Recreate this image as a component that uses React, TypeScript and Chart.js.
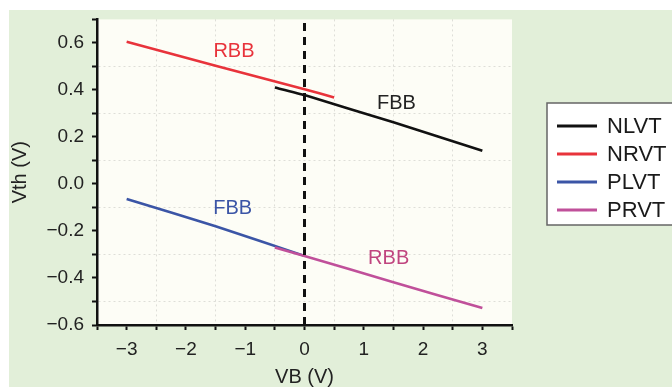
import React, { useEffect, useRef } from "react";
import { Chart, registerables } from "chart.js";

Chart.register(...registerables);

// ---- data ----
const seriesNames = ["NLVT", "NRVT", "PLVT", "PRVT"];
const seriesColors = ["#111111", "#e8333b", "#3b55a6", "#c0509a"];

const nlvtX = [-0.5, 0, 1.5, 3];
const nlvtY = [0.41, 0.378, 0.262, 0.141];
const nrvtX = [-3, -1.5, 0, 0.5];
const nrvtY = [0.605, 0.503, 0.403, 0.368];
const plvtX = [-3, -1.5, 0];
const plvtY = [-0.064, -0.18, -0.306];
const prvtX = [-0.5, 0, 1.5, 3];
const prvtY = [-0.27, -0.306, -0.418, -0.528];

const zeroLineX = [0, 0];
const zeroLineY = [-0.6, 0.7];

const annotationText = ["RBB", "FBB", "FBB", "RBB"];
const annotationX = [-1.19, 1.55, -1.21, 1.42];
const annotationY = [0.562, 0.342, -0.105, -0.319];
const annotationColors = ["#e8333b", "#222222", "#3b55a6", "#c0457f"];

const xTickValues = [-3, -2, -1, 0, 1, 2, 3];
const yTickValues = [-0.6, -0.4, -0.2, 0.0, 0.2, 0.4, 0.6];

const FONT = "'Liberation Sans', Arial, Helvetica, sans-serif";
const GREEN = "#e2efd9";
const CREAM = "#fdfdf6";

const fmt = (v: number, digits: number) => {
  const s = Math.abs(v).toFixed(digits);
  return v < -1e-9 ? "\u2212" + s : s;
};

const pts = (xs: number[], ys: number[]) => xs.map((x, i) => ({ x, y: ys[i] }));

const bgPlugin = {
  id: "bgPlugin",
  beforeDraw(chart: any) {
    const { ctx, chartArea } = chart;
    ctx.save();
    ctx.fillStyle = "#ffffff";
    ctx.fillRect(0, 0, chart.width, chart.height);
    ctx.fillStyle = GREEN;
    ctx.fillRect(9, 10, chart.width - 9, chart.height - 10);
    ctx.fillStyle = CREAM;
    ctx.fillRect(chartArea.left, chartArea.top, chartArea.right - chartArea.left, chartArea.bottom - chartArea.top);
    ctx.restore();
  },
};

const annotationPlugin = {
  id: "annotationPlugin",
  afterDatasetsDraw(chart: any) {
    const { ctx } = chart;
    const xs = chart.scales.x;
    const ys = chart.scales.y;
    ctx.save();
    ctx.font = `20px ${FONT}`;
    ctx.textAlign = "center";
    ctx.textBaseline = "middle";
    annotationText.forEach((t, i) => {
      ctx.fillStyle = annotationColors[i];
      ctx.fillText(t, xs.getPixelForValue(annotationX[i]), ys.getPixelForValue(annotationY[i]));
    });
    ctx.restore();
  },
};

const legendPlugin = {
  id: "legendPlugin",
  afterDraw(chart: any) {
    const { ctx } = chart;
    const left = 547;
    const top = 103;
    const bottom = 225;
    ctx.save();
    ctx.fillStyle = "#ffffff";
    ctx.fillRect(left, top, chart.width - left + 5, bottom - top);
    ctx.strokeStyle = "#666666";
    ctx.lineWidth = 1.5;
    ctx.strokeRect(left, top, chart.width - left + 5, bottom - top);
    ctx.font = `22px ${FONT}`;
    ctx.textAlign = "left";
    ctx.textBaseline = "middle";
    seriesNames.forEach((name, i) => {
      const y = 126 + i * 28;
      ctx.strokeStyle = seriesColors[i];
      ctx.lineWidth = 3;
      ctx.beginPath();
      ctx.moveTo(557, y);
      ctx.lineTo(597, y);
      ctx.stroke();
      ctx.fillStyle = "#1a1a1a";
      ctx.fillText(name, 607, y + 1);
    });
    ctx.restore();
  },
};

export default function App() {
  const ref = useRef<HTMLCanvasElement | null>(null);

  useEffect(() => {
    if (!ref.current) return;
    const seriesX = [nlvtX, nrvtX, plvtX, prvtX];
    const seriesY = [nlvtY, nrvtY, plvtY, prvtY];
    const datasets: any[] = seriesNames.map((name, i) => ({
      label: name,
      data: pts(seriesX[i], seriesY[i]),
      borderColor: seriesColors[i],
      borderWidth: 2.6,
      pointRadius: 0,
      tension: 0.1,
      fill: false,
      order: name === "PRVT" ? 0 : i + 1,
    }));
    datasets.push({
      label: "zero",
      data: pts(zeroLineX, zeroLineY),
      borderColor: "#111111",
      borderWidth: 3,
      borderDash: [8, 6],
      pointRadius: 0,
      fill: false,
      order: -1,
    });

    const chart = new Chart(ref.current, {
      type: "line",
      data: { datasets },
      plugins: [bgPlugin, annotationPlugin, legendPlugin],
      options: {
        responsive: false,
        animation: false,
        devicePixelRatio: 1,
        layout: { padding: { left: 0, top: 15, right: 160, bottom: 0 } },
        plugins: { legend: { display: false }, tooltip: { enabled: false } },
        scales: {
          x: {
            type: "linear",
            min: -3.5,
            max: 3.5,
            afterFit(scale: any) {
              scale.height = 62;
            },
            ticks: {
              stepSize: 0.5,
              autoSkip: false,
              maxRotation: 0,
              padding: 8,
              color: "#222222",
              font: { family: FONT, size: 19 },
              callback(value: any) {
                const v = Number(value);
                return xTickValues.some((t) => Math.abs(t - v) < 1e-6) ? fmt(v, 0) : "";
              },
            },
            grid: {
              drawTicks: true,
              tickLength: 5,
              tickColor: "#111111",
              tickWidth: 2,
              lineWidth: 1,
              color(ctx: any) {
                const v = ctx.tick ? ctx.tick.value : 0;
                const isHalf = Math.abs(v * 2 - Math.round(v * 2)) < 1e-6 && Math.abs(v - Math.round(v)) > 1e-6;
                return isHalf && Math.abs(v) < 3.4 ? "rgba(0,0,0,0.12)" : "rgba(0,0,0,0)";
              },
            },
            border: { display: true, color: "#111111", width: 2.5, dash: [2, 3] },
            title: {
              display: true,
              text: "VB (V)",
              color: "#222222",
              font: { family: FONT, size: 20, lineHeight: 1 },
              padding: { top: 0, bottom: 0 },
            },
          },
          y: {
            type: "linear",
            min: -0.6,
            max: 0.7,
            afterFit(scale: any) {
              scale.width = 97;
            },
            ticks: {
              stepSize: 0.1,
              autoSkip: false,
              padding: 8,
              color: "#222222",
              font: { family: FONT, size: 19 },
              callback(value: any) {
                const v = Number(value);
                return yTickValues.some((t) => Math.abs(t - v) < 1e-6) ? fmt(v, 1) : "";
              },
            },
            grid: {
              drawTicks: true,
              tickLength: 5,
              tickColor: "#111111",
              tickWidth: 2,
              lineWidth: 1,
              color(ctx: any) {
                const v = ctx.tick ? ctx.tick.value : 0;
                const n = Math.round(v * 10);
                return Math.abs(n % 2) === 1 && Math.abs(n) < 7 ? "rgba(0,0,0,0.12)" : "rgba(0,0,0,0)";
              },
            },
            border: { display: true, color: "#111111", width: 2.5, dash: [2, 3] },
            title: {
              display: true,
              text: "Vth (V)",
              color: "#222222",
              font: { family: FONT, size: 20, lineHeight: 1.2 },
              padding: { top: 8, bottom: 0 },
            },
          },
        },
      },
    });
    return () => chart.destroy();
  }, []);

  return (
    <div style={{ position: "absolute", left: 0, top: 0, width: 672, height: 387 }}>
      <canvas ref={ref} width={672} height={387} style={{ display: "block", width: 672, height: 387 }} />
    </div>
  );
}
